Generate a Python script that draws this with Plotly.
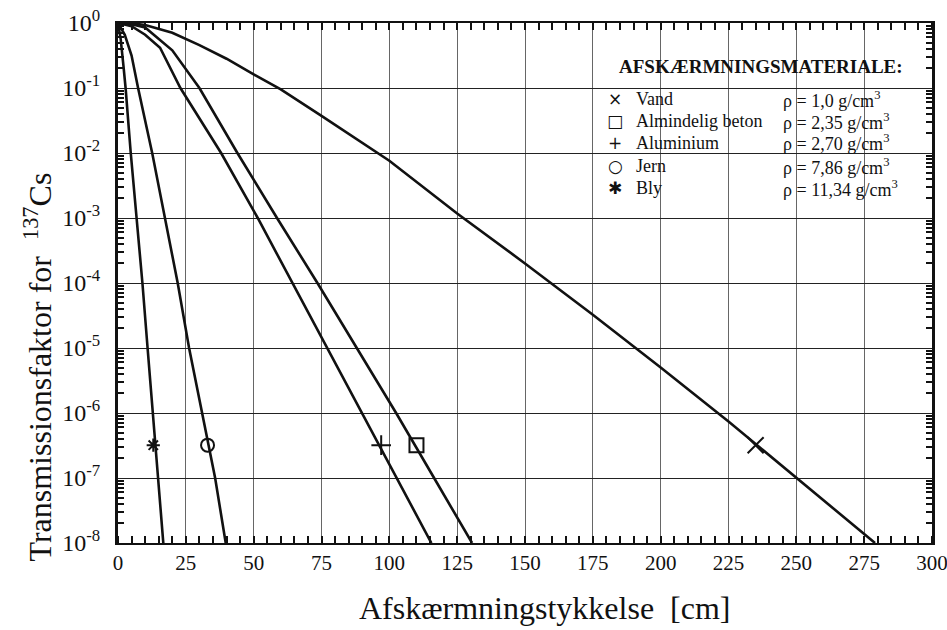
import plotly.graph_objects as go

# ---- data ----
vand_x = [0, 5, 10, 20, 30, 40, 50, 60, 75, 100, 125, 150, 175, 200, 225, 250, 279]
vand_y = [1.0, 0.989, 0.933, 0.708, 0.457, 0.282, 0.162, 0.0955, 0.0372, 7.59e-3, 1.17e-3,
          2.0e-4, 3.24e-5, 5.0e-6, 7.41e-7, 1.02e-7, 1e-8]

beton_x = [0, 5, 10, 20, 30, 44, 58.6, 73.5, 88, 102.5, 116.5, 130.5]
beton_y = [1.0, 0.955, 0.851, 0.380, 0.1, 1e-2, 1e-3, 1e-4, 1e-5, 1e-6, 1e-7, 1e-8]

alu_x = [0, 5, 10, 15.5, 23, 38, 51.5, 64.3, 77.2, 90, 102.7, 115.5]
alu_y = [1.0, 0.891, 0.661, 0.417, 0.1, 1e-2, 1e-3, 1e-4, 1e-5, 1e-6, 1e-7, 1e-8]

jern_x = [0, 2.5, 5, 7.4, 12.6, 17.3, 22, 26.2, 31, 35.8, 39.7]
jern_y = [1.0, 0.66, 0.316, 0.1, 1e-2, 1e-3, 1e-4, 1e-5, 1e-6, 1e-7, 1e-8]

bly_x = [0, 1, 2, 2.8, 4.7, 6.9, 9.0, 10.9, 12.8, 14.9, 16.7]
bly_y = [1.0, 0.56, 0.22, 0.1, 1e-2, 1e-3, 1e-4, 1e-5, 1e-6, 1e-7, 1e-8]

marker_x = [235, 110, 97, 33, 13]
marker_y = [3.2e-7, 3.2e-7, 3.2e-7, 3.2e-7, 3.2e-7]

materials = ["Vand", "Almindelig beton", "Aluminium", "Jern", "Bly"]
densities = ["1,0", "2,35", "2,70", "7,86", "11,34"]
legend_symbols = ["×", "□", "+", "○", "✱"]

x_ticks = [0, 25, 50, 75, 100, 125, 150, 175, 200, 225, 250, 275, 300]
y_exponents = [0, -1, -2, -3, -4, -5, -6, -7, -8]

# ---- figure ----
SERIF = "Liberation Serif"
INK = "#111"
fig = go.Figure()

curves = [(vand_x, vand_y), (beton_x, beton_y), (alu_x, alu_y), (jern_x, jern_y), (bly_x, bly_y)]
for cx, cy in curves:
    fig.add_trace(go.Scatter(x=cx, y=cy, mode="lines",
                             line=dict(color=INK, width=2.6), showlegend=False,
                             hoverinfo="skip"))

sym = ["x-thin-open", "square-open", "cross-thin-open", "circle-open", "asterisk-open"]
sizes = [16, 14, 14, 13, 11]
for i in range(5):
    fig.add_trace(go.Scatter(x=[marker_x[i]], y=[marker_y[i]], mode="markers",
                             marker=dict(symbol=sym[i], size=sizes[i], color=INK,
                                         line=dict(color=INK, width=2)),
                             showlegend=False, hoverinfo="skip"))

# minor tick positions on log axis
minor_y = []
for e in range(-8, 0):
    for m in range(2, 10):
        minor_y.append(m * 10.0 ** e)

fig.update_xaxes(
    range=[0, 300], tickvals=x_ticks, ticktext=[str(v) for v in x_ticks],
    showgrid=True, gridcolor="#666", gridwidth=1.2,
    showline=True, linecolor=INK, linewidth=2, mirror="allticks",
    ticks="", zeroline=False, ticklabeloverflow="allow", automargin=False,
    minor=dict(dtick=5, ticks="inside", ticklen=7, tickcolor=INK, tickwidth=1.5, showgrid=False),
    tickfont=dict(family=SERIF, size=21, color=INK),
)
fig.update_yaxes(
    type="log", range=[-8, 0],
    tickvals=[10.0 ** e for e in y_exponents],
    ticktext=["10<sup>%d</sup>" % e for e in y_exponents],
    showgrid=True, gridcolor="#222", gridwidth=1.1,
    showline=True, linecolor=INK, linewidth=3, mirror="allticks",
    ticks="", zeroline=False, ticklabelstandoff=10, ticklabeloverflow="allow", automargin=False,
    minor=dict(tickmode="array", tickvals=minor_y, ticks="inside", ticklen=6,
               tickcolor=INK, tickwidth=1.5, showgrid=False),
    tickfont=dict(family=SERIF, size=24, color=INK),
)

# legend box (white, covering grid)
fig.add_shape(type="rect", xref="paper", yref="paper", x0=175 / 300 + 0.002, x1=1.0,
              y0=0.627, y1=1.0, fillcolor="white", line=dict(width=0), layer="between")

def px_to_paper(px, py):
    # pixel -> paper coordinates (plot area spans 118..932 x 23..543)
    return (px - 118) / 814.0, (543 - py) / 520.0

annots = []
tx, ty = px_to_paper(761, 66)
annots.append(dict(x=tx, y=ty, text="<b>AFSKÆRMNINGSMATERIALE:</b>", showarrow=False,
                   xref="paper", yref="paper", xanchor="center", yanchor="middle",
                   font=dict(family=SERIF, size=19, color=INK)))
rows = [99, 121, 143, 166, 188]
for i in range(5):
    sx, sy = px_to_paper(615, rows[i])
    annots.append(dict(x=sx, y=sy, text=legend_symbols[i], showarrow=False, xref="paper",
                       yref="paper", xanchor="center", yanchor="middle",
                       font=dict(family="DejaVu Sans", size=17, color=INK)))
    nx, ny = px_to_paper(634, rows[i])
    annots.append(dict(x=nx, y=ny, text=materials[i], showarrow=False, xref="paper",
                       yref="paper", xanchor="left", yanchor="middle",
                       font=dict(family=SERIF, size=18, color=INK)))
    rx, ry = px_to_paper(781, rows[i])
    annots.append(dict(x=rx, y=ry, text="ρ = %s g/cm<sup>3</sup>" % densities[i],
                       showarrow=False, xref="paper", yref="paper", xanchor="left",
                       yanchor="middle", font=dict(family=SERIF, size=18, color=INK)))

# axis titles
ax_, ay_ = px_to_paper(545, 608)
annots.append(dict(x=ax_, y=ay_, text="Afskærmningstykkelse  [cm]", showarrow=False,
                   xref="paper", yref="paper", xanchor="center", yanchor="middle",
                   font=dict(family=SERIF, size=32, color=INK)))
bx, by = px_to_paper(37, 564)
annots.append(dict(x=bx, y=by, text="Transmissionsfaktor for  <sup>137</sup>Cs", showarrow=False,
                   xref="paper", yref="paper", textangle=-90, xanchor="center", yanchor="bottom",
                   font=dict(family=SERIF, size=32, color=INK)))

fig.update_layout(
    width=947, height=630,
    margin=dict(l=118, r=15, t=23, b=87, autoexpand=False),
    paper_bgcolor="white", plot_bgcolor="white",
    annotations=annots,
    showlegend=False,
)

# remove the default 8px page margin so the figure sits at the window origin
fig.write_html("out.html", config={"displayModeBar": False},
               post_script="document.body.style.margin='0px';document.body.style.overflow='hidden';")
